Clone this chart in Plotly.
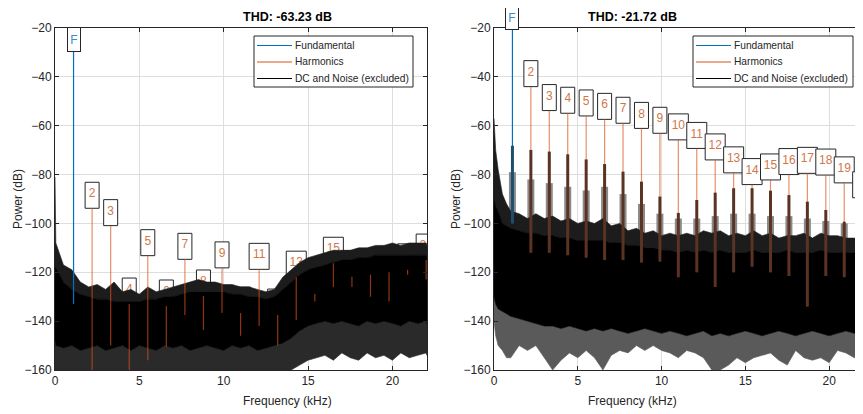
import plotly.graph_objects as go

FONT = "Liberation Sans, Arial, sans-serif"
# the page body keeps an 8 px margin, so the figure fills the rest of the window
OFF = 8
W, H = 863 - OFF, 414 - OFF

# ------------------------------------------------------------------ data
titles = ["THD: -63.23 dB", "THD: -21.72 dB"]
x_ticks = [0, 5, 10, 15, 20]
y_ticks = [-160, -140, -120, -100, -80, -60, -40, -20]
legend_names = ["Fundamental", "Harmonics", "DC and Noise (excluded)"]

harm_labels = ["2", "3", "4", "5", "6", "7", "8", "9", "10", "11", "12", "13",
               "14", "15", "16", "17", "18", "19", "20"]
harm_freq = [2.2, 3.3, 4.4, 5.5, 6.6, 7.7, 8.8, 9.9, 11.0, 12.1, 13.2, 14.3,
             15.4, 16.5, 17.6, 18.7, 19.8, 20.9, 22.0]
fund_freq = 1.1

# left panel
left_fund_peak = -29.7
left_fund_low = -133.0
left_harm_peak = [-93.8, -100.9, -133.0, -113.2, -133.8, -114.7, -129.7, -118.2,
                  -136.7, -118.8, -137.5, -122.0, -128.9, -116.3, -121.8, -121.0,
                  -120.0, -119.0, -115.0]
left_harm_low = [-160, -150, -160, -156, -150.5, -137.5, -143.6, -136.7, -146,
                 -142, -150, -139.5, -132, -126, -126, -130, -132, -121, -123]

left_noise_f = [0, 0.05, 0.5, 1.0, 1.5, 2.0, 2.5, 3.0, 3.5, 4.0, 4.5, 5.0, 5.5,
                6.0, 6.5, 7.0, 7.5, 8.0, 8.5, 9.0, 9.5, 10.0, 10.5, 11.0, 11.5,
                12.0, 12.5, 13.0, 13.5, 14.0, 14.5, 15.0, 15.5, 16.0, 16.5, 17.0,
                17.5, 18.0, 18.5, 19.0, 19.5, 20.0, 20.5, 21.0, 21.5, 22.0, 22.05]
left_spike_top = [-81, -108, -117, -119, -124, -126, -125, -127, -124, -128, -127,
                  -129, -126, -128, -127, -126, -125, -124, -123, -124, -124, -125,
                  -125, -126, -126, -127, -128, -127, -122, -119, -116, -114, -113,
                  -112, -111, -111, -111, -110, -110, -109, -109, -108, -109, -108,
                  -108, -108, -109]
left_core_top = [-118, -118, -124, -127, -129, -130, -131, -131, -132, -132, -132,
                 -132, -131, -131, -130, -130, -129, -128, -128, -128, -128, -128,
                 -129, -129, -130, -130, -131, -130, -127, -124, -121, -119, -118,
                 -117, -116, -115, -115, -114, -114, -113, -113, -113, -113, -113,
                 -113, -113, -114]
left_core_bottom = [-148, -150, -151, -150, -152, -151, -150, -152, -151, -150, -152,
                    -150, -151, -152, -150, -151, -150, -152, -151, -150, -151, -152,
                    -150, -151, -150, -152, -151, -150, -149, -147, -144, -142, -141,
                    -140, -141, -140, -141, -142, -140, -141, -140, -141, -142, -140,
                    -141, -140, -141]
left_spike_bottom = [-160, -160, -160, -160, -160, -160, -160, -160, -160, -160, -160,
                     -160, -160, -160, -160, -160, -160, -160, -160, -160, -160, -160,
                     -160, -160, -160, -160, -160, -160, -160, -160, -158, -156, -155,
                     -154, -156, -153, -155, -156, -153, -155, -154, -156, -153, -155,
                     -154, -153, -154]

# right panel
right_fund_peak = -20.8
right_fund_thick_top = -68.2
right_fund_skirt = -79.0
right_fund_low = -100.0
right_harm_peak = [-44.0, -53.8, -54.9, -56.0, -57.4, -59.0, -61.1, -63.1, -65.8,
                   -69.3, -74.0, -79.3, -84.1, -82.2, -80.0, -79.5, -80.2, -83.4,
                   -89.5]
right_harm_thick_top = [-69.9, -70.6, -71.7, -73.8, -75.7, -78.8, -82.9, -89.0,
                        -95.7, -90.4, -87.4, -85.6, -85.6, -86.6, -88.4, -91.1,
                        -94.5, -99.3, -100.0]
right_harm_skirt = [-82, -83.5, -85, -86.5, -85, -88, -92, -96, -98, -98, -97, -96,
                    -96, -97, -97, -98, -99, -100, -101]
right_harm_low = [-112, -112, -113, -114, -115, -115, -116, -115.6, -122, -120,
                  -126, -120, -117.7, -120, -121.5, -134, -121.5, -122, -120]

right_noise_f = [0, 0.1, 0.25, 0.5, 0.75, 1.0, 1.5, 2.0, 2.5, 3.0, 3.5, 4.0, 4.5,
                 5.0, 5.5, 6.0, 6.5, 7.0, 7.5, 8.0, 8.5, 9.0, 9.5, 10.0, 10.5, 11.0,
                 11.5, 12.0, 12.5, 13.0, 13.5, 14.0, 14.5, 15.0, 15.5, 16.0, 16.5,
                 17.0, 17.5, 18.0, 18.5, 19.0, 19.5, 20.0, 20.5, 21.0, 21.5, 22.0,
                 22.02]
right_spike_top = [-57, -70, -78, -88, -92, -95, -96, -98, -96, -98, -97, -99, -98,
                   -100, -99, -100, -98, -101, -100, -103, -102, -104, -103, -105,
                   -104, -105, -104, -105, -103, -104, -103, -105, -104, -105, -103,
                   -105, -104, -106, -105, -105, -104, -106, -104, -105, -105, -106,
                   -106, -107, -107]
right_core_top = [-90, -93, -95, -100, -101, -102, -103, -104, -104, -105, -105,
                  -106, -106, -107, -107, -107, -107, -108, -108, -109, -109, -110,
                  -110, -111, -111, -112, -111, -112, -111, -112, -111, -112, -112,
                  -112, -111, -112, -112, -112, -111, -112, -112, -112, -111, -112,
                  -112, -112, -112, -112, -112]
right_core_bottom = [-130, -133, -135, -136, -137, -138, -139, -140, -141, -142, -142,
                     -143, -142, -143, -144, -143, -144, -143, -144, -145, -144, -143,
                     -144, -145, -144, -145, -146, -145, -144, -146, -145, -146, -145,
                     -144, -145, -146, -145, -144, -145, -146, -145, -144, -145, -146,
                     -145, -144, -145, -146, -146]
right_spike_bottom = [-140, -146, -150, -152, -155, -155, -150, -152, -150, -155,
                      -160, -156, -153, -155, -152, -155, -160, -154, -152, -153,
                      -150, -152, -150, -152, -153, -155, -152, -153, -155, -160,
                      -160, -158, -155, -157, -155, -154, -153, -156, -158, -152,
                      -155, -156, -155, -157, -152, -153, -155, -154, -154]

# ------------------------------------------------------------------ styles
BLUE = "#0072BD"
ORANGE = "#D95319"
LABEL_ORANGE = "#D0784A"
LABEL_BLUE = "#3A8DC8"
AXIS = "#262626"
GRID = "#dedede"
TOP_FRINGE = "#1c1c1c"


def px_x(p):
    """window pixel -> paper fraction"""
    return (p - OFF) / W


def px_y(p):
    return 1 - (p - OFF) / H


fig = go.Figure()


def band(xs, top, bottom, color, xa, ya):
    fig.add_trace(go.Scatter(
        x=list(xs) + list(xs)[::-1], y=list(top) + list(bottom)[::-1],
        fill="toself", fillcolor=color, line=dict(width=0.6, color=color),
        mode="lines", hoverinfo="skip", showlegend=False, xaxis=xa, yaxis=ya))


def stems(xs, tops, bottoms, color, width, xa, ya):
    X, Y = [], []
    for x, t, b in zip(xs, tops, bottoms):
        X += [x, x, None]
        Y += [t, b, None]
    fig.add_trace(go.Scatter(x=X, y=Y, mode="lines", line=dict(color=color, width=width),
                             hoverinfo="skip", showlegend=False, xaxis=xa, yaxis=ya))


def noise(xs, s_top, c_top, c_bot, s_bot, bottom_color, xa, ya):
    band(xs, c_bot, s_bot, bottom_color, xa, ya)
    band(xs, s_top, c_top, TOP_FRINGE, xa, ya)
    band(xs, c_top, c_bot, "#000000", xa, ya)


def labels(xs, ys, xa, ya):
    # label texts sit under the noise, like the reference
    fig.add_trace(go.Scatter(x=xs, y=ys, mode="markers+text", text=harm_labels,
                             textposition="top center",
                             marker=dict(size=11, opacity=0),
                             textfont=dict(family=FONT, size=12, color=LABEL_ORANGE),
                             hoverinfo="skip", showlegend=False, xaxis=xa, yaxis=ya))


# ---------------- left panel traces
labels(harm_freq, left_harm_peak, "x", "y")
noise(left_noise_f, left_spike_top, left_core_top, left_core_bottom, left_spike_bottom,
      "#2a2a2a", "x", "y")
stems(harm_freq, left_harm_peak, left_harm_low, "rgba(217,83,25,0.65)", 1.2, "x", "y")
stems([fund_freq], [left_fund_peak], [left_fund_low], BLUE, 1.2, "x", "y")

# ---------------- right panel traces (skirts beneath the noise)
labels(harm_freq, right_harm_peak, "x2", "y2")
stems(harm_freq, right_harm_skirt, right_harm_low, "#8a8a8a", 7, "x2", "y2")
stems([fund_freq], [right_fund_skirt], [right_fund_low], "#8a8a8a", 7, "x2", "y2")
noise(right_noise_f, right_spike_top, right_core_top, right_core_bottom,
      right_spike_bottom, "#5a5a5a", "x2", "y2")
stems(harm_freq, right_harm_peak, right_harm_low, "rgba(217,83,25,0.65)", 1.2, "x2", "y2")
stems(harm_freq, right_harm_thick_top, right_harm_low, "#5b3322", 3, "x2", "y2")
stems([fund_freq], [right_fund_peak], [right_fund_low], BLUE, 1.2, "x2", "y2")
stems([fund_freq], [right_fund_thick_top], [right_fund_low], "#1e4e6a", 3, "x2", "y2")

# ---------------- label boxes (below the traces)
shapes = []
annotations = []
for xref, yref, peaks in (("x", "y", left_harm_peak), ("x2", "y2", right_harm_peak)):
    for lab, f, p in zip(harm_labels, harm_freq, peaks):
        w = 8 + 6 * len(lab)
        shapes.append(dict(type="rect", xref=xref, yref=yref, xsizemode="pixel",
                           ysizemode="pixel", xanchor=f, yanchor=p, x0=-w / 2, x1=w / 2,
                           y0=0, y1=26, line=dict(color=AXIS, width=1),
                           fillcolor="white", layer="between"))

# F labels
for xref, yref, p in (("x", "y", left_fund_peak), ("x2", "y2", right_fund_peak)):
    annotations.append(dict(x=fund_freq, y=p, xref=xref, yref=yref, text="F",
                            showarrow=False, yanchor="bottom", xanchor="center",
                            width=10, height=21, borderpad=1, bgcolor="white",
                            bordercolor=AXIS, borderwidth=1,
                            font=dict(family=FONT, size=12, color=LABEL_BLUE)))

# titles, axis titles, legends
panels = [(55, 427), (494, 864)]
for (l, r), t in zip(panels, titles):
    annotations.append(dict(x=px_x((l + r) / 2), y=px_y(17), xref="paper", yref="paper",
                            text="<b>" + t + "</b>", showarrow=False,
                            yanchor="middle",
                            font=dict(family=FONT, size=12.5, color="#000000")))
    annotations.append(dict(x=px_x((l + r) / 2), y=px_y(401), xref="paper", yref="paper",
                            text="Frequency (kHz)", showarrow=False, yanchor="middle",
                            font=dict(family=FONT, size=12, color=AXIS)))
for xc in (18, 456):
    annotations.append(dict(x=px_x(xc), y=px_y(199), xref="paper", yref="paper",
                            text="Power (dB)", showarrow=False, textangle=-90,
                            xanchor="center", yanchor="middle",
                            font=dict(family=FONT, size=12, color=AXIS)))

legend_colors = [BLUE, ORANGE, "#000000"]
for lx0, lx1 in ((254, 413), (693, 853)):
    shapes.append(dict(type="rect", xref="paper", yref="paper", x0=px_x(lx0),
                       x1=px_x(lx1), y0=px_y(87), y1=px_y(36),
                       line=dict(color=AXIS, width=1), fillcolor="white", layer="above"))
    for i, (name, col) in enumerate(zip(legend_names, legend_colors)):
        yy = 45.5 + 16.5 * i
        shapes.append(dict(type="line", xref="paper", yref="paper", x0=px_x(lx0 + 3),
                           x1=px_x(lx0 + 38), y0=px_y(yy), y1=px_y(yy),
                           line=dict(color=col, width=1.2), layer="above"))
        annotations.append(dict(x=px_x(lx0 + 39), y=px_y(yy), xref="paper", yref="paper",
                                text=name, showarrow=False, xanchor="left",
                                yanchor="middle",
                                font=dict(family=FONT, size=10.2, color=AXIS)))

axis_common = dict(showgrid=True, gridcolor=GRID, gridwidth=1, showline=True,
                   linecolor=AXIS, linewidth=1, ticks="inside", ticklen=4,
                   tickcolor=AXIS, zeroline=False, automargin=False,
                   tickfont=dict(family=FONT, size=12, color=AXIS))
ydom = [px_y(370), px_y(28)]
fig.update_layout(
    width=W, height=H, autosize=False,
    margin=dict(l=0, r=0, t=0, b=0, pad=0, autoexpand=False),
    paper_bgcolor="white", plot_bgcolor="white",
    showlegend=False,
    xaxis=dict(domain=[px_x(55), px_x(427)], range=[0, 22.05], tickvals=x_ticks,
               anchor="y", mirror="ticks", **axis_common),
    yaxis=dict(domain=ydom, range=[-160, -20], tickvals=y_ticks, anchor="x",
               mirror="ticks", **axis_common),
    xaxis2=dict(domain=[px_x(494), 1.0], range=[0, 22.02], tickvals=x_ticks,
                anchor="y2", mirror="ticks", **axis_common),
    yaxis2=dict(domain=ydom, range=[-160, -20], tickvals=y_ticks, anchor="x2",
                mirror=False, **axis_common),
    shapes=shapes, annotations=annotations,
)

fig.write_html("out.html")
